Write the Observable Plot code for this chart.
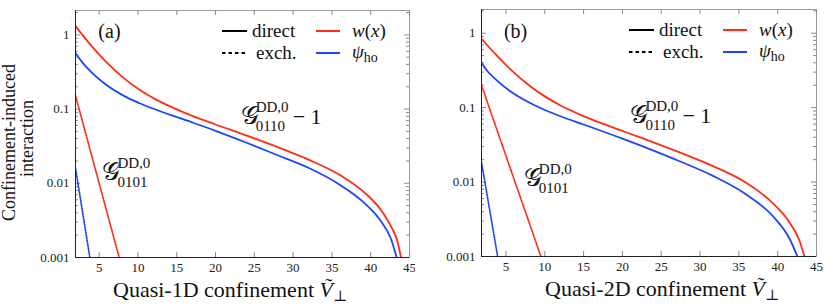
<!DOCTYPE html>
<html><head><meta charset="utf-8">
<script src="https://cdn.jsdelivr.net/npm/d3@7"></script>
<script src="https://cdn.jsdelivr.net/npm/@observablehq/plot@0.6"></script>
<style>
body{margin:0;background:#fff;}
#wrap{display:flex;width:830px;height:305px;overflow:hidden;}
#wrap svg{display:block;flex:none;}
</style></head><body><div id="wrap"></div>
<script>
// ---------- data ----------
// panel (a) quasi-1D
const aX_wDir  = [1.95, 3.76, 5.9, 8.06, 10.2, 12.35, 15.8, 20, 24, 27.6, 31.9, 36.2, 39.2, 41.3, 42.6, 43.5, 43.9];
const aY_wDir  = [1.31, 0.762, 0.432, 0.267, 0.182, 0.134, 0.0912, 0.062, 0.044, 0.0319, 0.021, 0.0126, 0.0075, 0.0044, 0.00265, 0.00158, 0.001];
const aX_hoDir = [1.95, 2.8, 3.76, 5.9, 8.06, 10.2, 12.35, 15.8, 20, 24, 27.6, 31.9, 36.2, 39.2, 41.3, 42.6, 43.35];
const aY_hoDir = [0.57, 0.43, 0.332, 0.213, 0.153, 0.12, 0.098, 0.073, 0.051, 0.0352, 0.0248, 0.0163, 0.0093, 0.0054, 0.0031, 0.0018, 0.001];
const aX_wEx   = [1.95, 7.58];
const aY_wEx   = [0.152, 0.001];
const aX_hoEx  = [1.95, 3.8];
const aY_hoEx  = [0.016, 0.001];
// panel (b) quasi-2D
const bX_wDir  = [1.85, 3.5, 5.65, 7.8, 10, 12.1, 15, 20, 24, 27.3, 31.6, 35.9, 39.4, 41.5, 42.8, 43.45];
const bY_wDir  = [0.84, 0.542, 0.322, 0.206, 0.1416, 0.106, 0.0769, 0.0485, 0.0342, 0.0252, 0.0165, 0.00984, 0.00516, 0.00289, 0.00164, 0.001];
const bX_hoDir = [1.85, 2.6, 3.5, 5.65, 7.8, 10, 12.1, 15, 20, 24, 27.3, 31.6, 35.9, 39.4, 41.5, 42.55];
const bY_hoDir = [0.40, 0.31, 0.249, 0.163, 0.1197, 0.0929, 0.0759, 0.0593, 0.0383, 0.0265, 0.0192, 0.0122, 0.00687, 0.00347, 0.00176, 0.001];
const bX_wEx   = [1.85, 9.5];
const bY_wEx   = [0.2, 0.001];
const bX_hoEx  = [1.85, 3.93];
const bY_hoEx  = [0.0185, 0.001];

const xTicks = [5, 10, 15, 20, 25, 30, 35, 40, 45];
const yTicks = [1, 0.1, 0.01, 0.001];
const yTickLabels = ["1", "0.1", "0.01", "0.001"];
const legendLines = ["direct", "exch."];

const RED = "#ff2d16", BLUE = "#1f45fc";
const FONT = "'Liberation Serif', 'DejaVu Serif', serif";

function pts(xs, ys){ return xs.map((x,i)=>({x, y: ys[i]})); }

function makePanel(cfg){
  const {width, height, ml, mr, mt, mb, xdom, ydom} = cfg;
  const fw = width - ml - mr, fh = height - mt - mb;
  const minorY = [];
  for (const k of [-3,-2,-1,0]) for (let m=2; m<=9; m++){ const v = m*Math.pow(10,k); if (v < ydom[1]) minorY.push(v); }
  const series = [
    {d: pts(cfg.xwd, cfg.ywd), c: RED, dash: null, w: 1.8},
    {d: pts(cfg.xhd, cfg.yhd), c: BLUE, dash: null, w: 1.8},
    {d: pts(cfg.xwe, cfg.ywe), c: RED, dash: "1.3,1.4", w: 1.7},
    {d: pts(cfg.xhe, cfg.yhe), c: BLUE, dash: "1.3,1.4", w: 1.7}
  ];
  const tickStroke = "#8a8a8a";
  const plot = Plot.plot({
    width, height, marginLeft: ml, marginRight: mr, marginTop: mt, marginBottom: mb,
    style: {fontFamily: FONT, fontSize: "13px", color: "#222", background: "#fff"},
    x: {domain: xdom, axis: null},
    y: {type: "log", domain: ydom, axis: null},
    marks: [
      Plot.frame({stroke: "#9a9a9a"}),
      Plot.tickY(yTicks, {y: d=>d, insetRight: fw-5, stroke: tickStroke}),
      Plot.tickY(yTicks, {y: d=>d, insetLeft: fw-5, stroke: tickStroke}),
      Plot.tickY(minorY, {y: d=>d, insetRight: fw-3, stroke: tickStroke}),
      Plot.tickY(minorY, {y: d=>d, insetLeft: fw-3, stroke: tickStroke}),
      Plot.tickX(xTicks, {x: d=>d, insetBottom: fh-5, stroke: tickStroke}),
      Plot.tickX(xTicks, {x: d=>d, insetTop: fh-5, stroke: tickStroke}),
      ...series.map(s => Plot.line(s.d, {x: "x", y: "y", stroke: s.c, strokeWidth: s.w,
          strokeDasharray: s.dash, curve: "monotone-x", clip: true})),
      Plot.ruleX([xdom[0]], {stroke: "#222", strokeWidth: 1}),
      Plot.ruleY([ydom[0]], {stroke: "#222", strokeWidth: 1}),
      Plot.axisY(yTicks, {anchor: "left", tickSize: 0, tickPadding: 6, label: null,
          tickFormat: d => yTickLabels[yTicks.indexOf(d)], fontSize: 13, fill: "#222"}),
      Plot.axisX(xTicks, {anchor: "bottom", tickSize: 0, tickPadding: 5, label: null,
          tickFormat: d => String(d), fontSize: 13, fill: "#222"})
    ]
  });
  const sx = plot.scale("x"), sy = plot.scale("y");
  const L = ml, R = width - mr, T = mt, B = height - mb;
  const svg = d3.select(plot);
  const g = svg.append("g").attr("font-family", FONT).attr("fill", "#111");
  function text(x, y, size, parts, anchor="start"){
    const t = g.append("text").attr("x", x).attr("y", y).attr("font-size", size).attr("text-anchor", anchor);
    for (const p of parts){
      const s = t.append("tspan").text(p.t);
      if (p.i) s.attr("font-style", "italic");
      if (p.dy) s.attr("dy", p.dy);
      if (p.fs) s.attr("font-size", p.fs);
      if (p.dx) s.attr("dx", p.dx);
    }
    return t;
  }
  // panel label
  text(sx.apply(cfg.labelX), sy.apply(cfg.labelY), 20, [{t: cfg.label}]);
  // legend
  const r1 = T + 21, r2 = T + 43;
  g.append("line").attr("x1", R-187).attr("x2", R-162).attr("y1", r1).attr("y2", r1).attr("stroke", "#000").attr("stroke-width", 2);
  g.append("line").attr("x1", R-187).attr("x2", R-162).attr("y1", r2).attr("y2", r2).attr("stroke", "#000").attr("stroke-width", 2).attr("stroke-dasharray", "3.5,3");
  text(R-157, r1+6, 19, [{t: legendLines[0]}]);
  text(R-153, r2+6, 19, [{t: legendLines[1]}]);
  g.append("line").attr("x1", R-93).attr("x2", R-69).attr("y1", r1).attr("y2", r1).attr("stroke", RED).attr("stroke-width", 2);
  g.append("line").attr("x1", R-93).attr("x2", R-69).attr("y1", r2).attr("y2", r2).attr("stroke", BLUE).attr("stroke-width", 2);
  text(R-57, r1+6, 19, [{t: "w", i: 1}, {t: "("}, {t: "x", i: 1}, {t: ")"}]);
  text(R-57, r2+5, 19, [{t: "ψ", i: 1}, {t: "ho", dy: 4, fs: 14}]);
  // G_0110 - 1
  const gx = sx.apply(cfg.g1X), gy = sy.apply(cfg.g1Y);
  text(gx, gy, 25, [{t: "𝒢"}]);
  text(gx+15, gy-12, 15, [{t: "DD,0"}]);
  text(gx+15, gy+7, 15, [{t: "0110"}]);
  text(gx+52, gy, 22, [{t: "− 1"}]);
  // G_0101
  const hx = sx.apply(cfg.g2X), hy = sy.apply(cfg.g2Y);
  text(hx, hy, 25, [{t: "𝒢"}]);
  text(hx+15, hy-12, 15, [{t: "DD,0"}]);
  text(hx+15, hy+7, 15, [{t: "0101"}]);
  // x axis title
  text(L + cfg.titleDx, B + 40, 22, [{t: cfg.xtitle + " "}, {t: "Ṽ", i: 1}, {t: "⊥", dy: 4, fs: 15}]);
  // y axis title
  if (cfg.ytitle){
    const cy = (T + B)/2 + 9;
    g.append("text").attr("transform", `translate(15,${cy}) rotate(-90)`).attr("text-anchor", "middle").attr("font-size", 18).text(cfg.ytitle[0]);
    g.append("text").attr("transform", `translate(33,${cy-4}) rotate(-90)`).attr("text-anchor", "middle").attr("font-size", 18).text(cfg.ytitle[1]);
  }
  return plot;
}

const wrap = document.getElementById("wrap");
wrap.append(makePanel({
  width: 415, height: 305, ml: 75, mr: 6, mt: 10, mb: 48,
  xdom: [1.95, 45], ydom: [0.001, 2.13],
  xwd: aX_wDir, ywd: aY_wDir, xhd: aX_hoDir, yhd: aY_hoDir,
  xwe: aX_wEx, ywe: aY_wEx, xhe: aX_hoEx, yhe: aY_hoEx,
  label: "(a)", labelX: 4.96, labelY: 0.89,
  g1X: 23.3, g1Y: 0.0615, g2X: 5.48, g2Y: 0.0108,
  xtitle: "Quasi-1D confinement", titleDx: 38,
  ytitle: ["Confinement-induced", "interaction"]
}));
wrap.append(makePanel({
  width: 415, height: 305, ml: 66, mr: 14, mt: 9, mb: 49,
  xdom: [1.85, 45], ydom: [0.001, 2.08],
  xwd: bX_wDir, ywd: bY_wDir, xhd: bX_hoDir, yhd: bY_hoDir,
  xwe: bX_wEx, ywe: bY_wEx, xhe: bX_hoEx, yhe: bY_hoEx,
  label: "(b)", labelX: 4.8, labelY: 0.85,
  g1X: 21.1, g1Y: 0.061, g2X: 7.37, g2Y: 0.0087,
  xtitle: "Quasi-2D confinement", titleDx: 64,
  ytitle: null
}));
</script></body></html>
